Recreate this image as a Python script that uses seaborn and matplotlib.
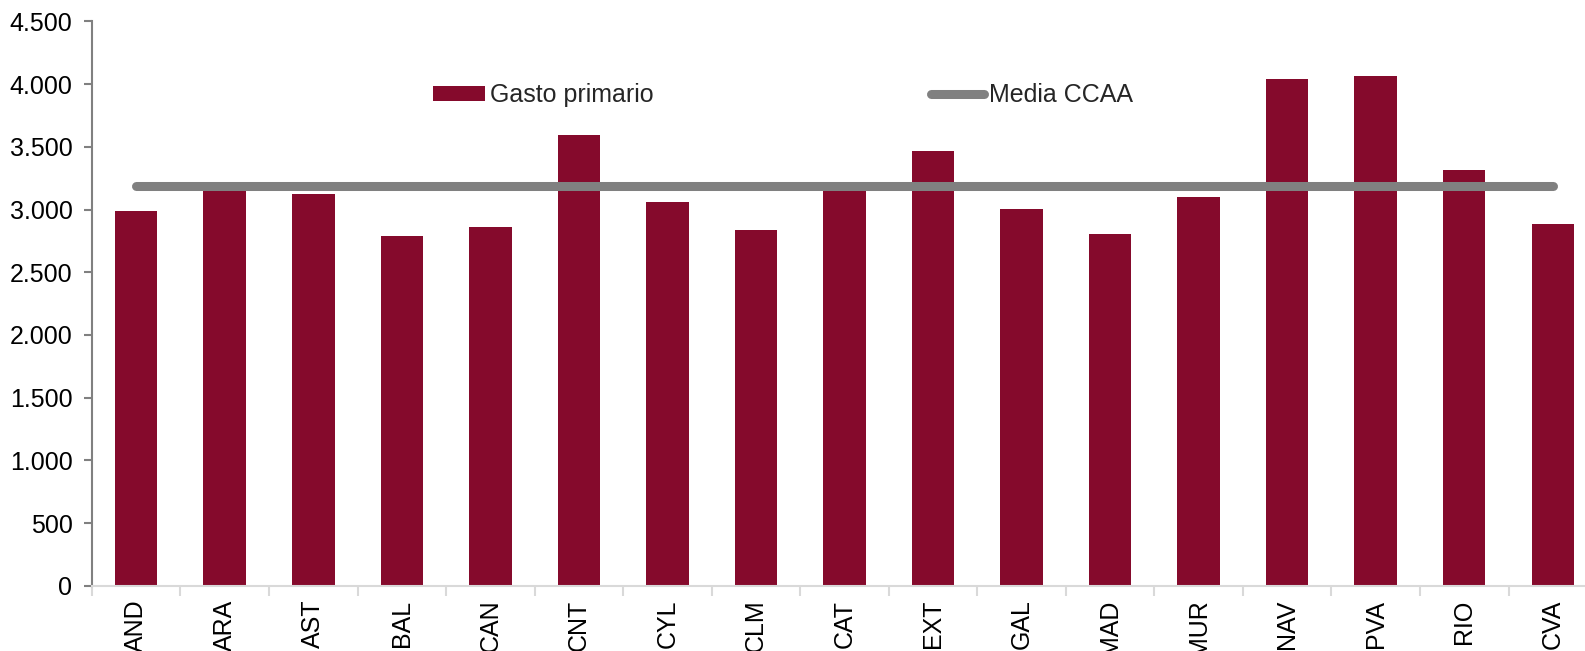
import matplotlib
matplotlib.use("Agg")
import matplotlib.pyplot as plt
import seaborn as sns
import pandas as pd
from matplotlib.ticker import FuncFormatter, FixedLocator
from matplotlib.patches import Patch
from matplotlib.lines import Line2D

categories = ["AND", "ARA", "AST", "BAL", "CAN", "CNT", "CYL", "CLM", "CAT",
              "EXT", "GAL", "MAD", "MUR", "NAV", "PVA", "RIO", "CVA"]
gasto_primario = [2986, 3170, 3121, 2789, 2857, 3591, 3062, 2833, 3170,
                  3467, 3005, 2807, 3103, 4041, 4065, 3315, 2884]
media_ccaa = [3185] * len(categories)
yticks = [0, 500, 1000, 1500, 2000, 2500, 3000, 3500, 4000, 4500]

sns.set_theme(style="white")
plt.rcParams["font.family"] = ["Liberation Sans", "DejaVu Sans"]

bar_color = "#850A2C"
line_color = "#808080"
fs = 18

fig = plt.figure(figsize=(15.85, 6.51), dpi=100)
ax = fig.add_axes([0.058, 0.1003, 0.9496, 0.8667])

df = pd.DataFrame({"cat": categories, "val": gasto_primario})
sns.barplot(data=df, x="cat", y="val", color=bar_color, saturation=1,
            width=0.48, ax=ax, edgecolor="none")
ax.plot(range(len(categories)), media_ccaa, color=line_color, lw=6.5,
        solid_capstyle="round", zorder=3)

ax.set_xlim(-0.5, len(categories) - 0.5)
ax.set_ylim(0, 4500)
ax.set_yticks(yticks)
ax.yaxis.set_major_formatter(FuncFormatter(lambda v, p: f"{int(v):,}".replace(",", ".")))
ax.set_xlabel("")
ax.set_ylabel("")

for s in ["top", "right"]:
    ax.spines[s].set_visible(False)
ax.spines["left"].set_color("#808080")
ax.spines["left"].set_linewidth(1.5)
ax.spines["bottom"].set_color("#D9D9D9")
ax.spines["bottom"].set_linewidth(1.5)

ax.tick_params(axis="y", which="major", left=True, length=6, width=1.5,
               color="#808080", labelsize=fs, labelcolor="black", pad=8)
ax.tick_params(axis="x", which="major", bottom=False, length=0, labelsize=fs,
               labelcolor="black", labelrotation=90, pad=10)
ax.xaxis.set_minor_locator(FixedLocator([i - 0.5 for i in range(len(categories) + 1)]))
ax.tick_params(axis="x", which="minor", bottom=True, length=7, width=1.5,
               color="#D9D9D9")

handles = [Patch(facecolor=bar_color, edgecolor="none", label="Gasto primario"),
           Line2D([0], [0], color=line_color, lw=6.5, solid_capstyle="round",
                  label="Media CCAA")]
fig.legend(handles=handles, loc="upper left", bbox_to_anchor=(0.273, 0.872),
           ncol=2, frameon=False, fontsize=fs, handlelength=2.1,
           handleheight=0.55, handletextpad=0.2, columnspacing=11.1,
           borderpad=0, borderaxespad=0)

fig.savefig("out.png", dpi=100)
